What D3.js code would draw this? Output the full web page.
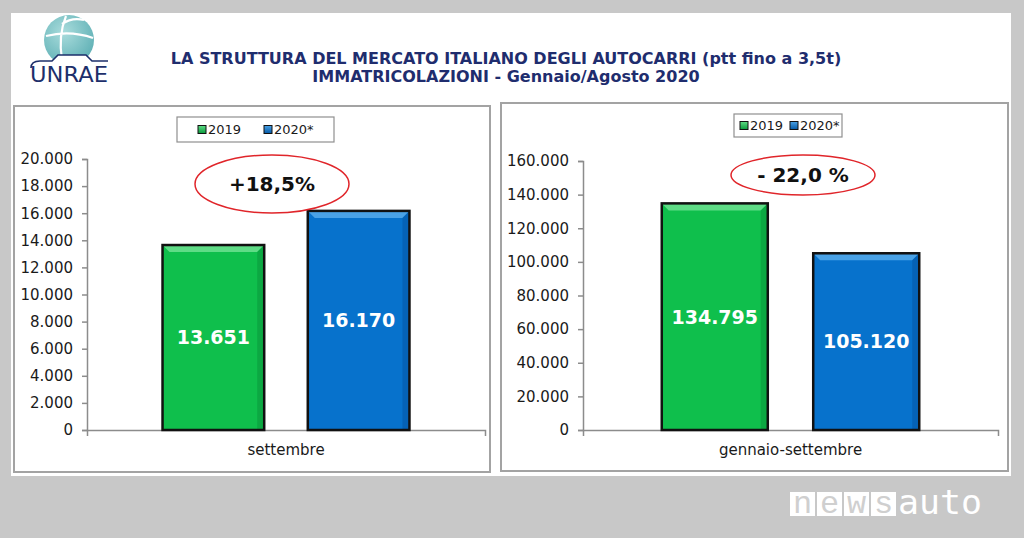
<!DOCTYPE html>
<html>
<head>
<meta charset="utf-8">
<script src="https://cdn.jsdelivr.net/npm/d3@7"></script>
<style>
  body { margin: 0; background: #c8c8c8; }
  svg { display: block; }
  text { font-family: "DejaVu Sans", Verdana, sans-serif; }
</style>
</head>
<body>
<div id="chart"></div>
<script>
// data
var categories = ["settembre", "gennaio-settembre"];
var seriesNames = ["2019", "2020*"];
var values2019 = [13651, 134795];
var values2020 = [16170, 105120];
var yMaxes = [20000, 160000];
var yTicks = [
  [0, 2000, 4000, 6000, 8000, 10000, 12000, 14000, 16000, 18000, 20000],
  [0, 20000, 40000, 60000, 80000, 100000, 120000, 140000, 160000]
];
var changeLabels = ["+18,5%", "- 22,0 %"];
var titleLines = [
  "LA STRUTTURA DEL MERCATO ITALIANO DEGLI AUTOCARRI (ptt fino a 3,5t)",
  "IMMATRICOLAZIONI - Gennaio/Agosto 2020"
];

var svgWidth = 1024;
var svgHeight = 538;

var it = d3.formatLocale({ decimal: ",", thousands: ".", grouping: [3], currency: ["", "€"] });
var fmt = it.format(",d");

var svg = d3.select("#chart")
  .append("svg")
  .attr("width", svgWidth)
  .attr("height", svgHeight);

var colors = { "2019": "#0fbf4c", "2020*": "#0772cc" };
var lightColors = { "2019": "#5fdc86", "2020*": "#4aa2e6" };
var darkColors = { "2019": "#0a9a3c", "2020*": "#0559a6" };

// gradients for legend squares
var defs = svg.append("defs");
seriesNames.forEach(function(s, i) {
  var g = defs.append("linearGradient").attr("id", "lg" + i)
    .attr("x1", 0).attr("y1", 0).attr("x2", 0).attr("y2", 1);
  g.append("stop").attr("offset", "0%").attr("stop-color", lightColors[s]);
  g.append("stop").attr("offset", "100%").attr("stop-color", darkColors[s]);
});
var globe = defs.append("radialGradient").attr("id", "globe")
  .attr("cx", "40%").attr("cy", "35%").attr("r", "70%");
globe.append("stop").attr("offset", "0%").attr("stop-color", "#a9dcdc");
globe.append("stop").attr("offset", "100%").attr("stop-color", "#5fb0b5");

// white panel
svg.append("rect")
  .attr("x", 11).attr("y", 13)
  .attr("width", 1000).attr("height", 463)
  .attr("fill", "#fff");

// logo
var logo = svg.append("g");
logo.append("circle").attr("cx", 69).attr("cy", 40).attr("r", 25).attr("fill", "url(#globe)");
logo.append("path")
  .attr("d", "M46,36 Q70,30 93,38 M66,16 Q58,36 62,60 M62,24 Q72,17 84,20")
  .attr("fill", "none").attr("stroke", "#fff").attr("stroke-width", 2.2);
logo.append("path")
  .attr("d", "M40,66 L40,61 L52,61 L58,55 L86,55 L92,61 L100,61 L100,66 Z")
  .attr("fill", "#fff");
logo.append("path")
  .attr("d", "M31,68 Q31,61 40,61 L52,61 L58,55 L86,55 L92,61 L108,61")
  .attr("fill", "none").attr("stroke", "#1d2f6b").attr("stroke-width", 1.6);
logo.append("text")
  .attr("x", 30).attr("y", 82)
  .attr("textLength", 78)
  .attr("lengthAdjust", "spacingAndGlyphs")
  .style("font-family", "'DejaVu Sans'")
  .style("font-size", "22px")
  .style("font-weight", "normal")
  .attr("fill", "#1d2f6b")
  .text("UNRAE");

// title
svg.selectAll(".title")
  .data(titleLines)
  .enter()
  .append("text")
  .attr("class", "title")
  .attr("x", 506)
  .attr("y", function(d, i) { return 64 + i * 18; })
  .attr("text-anchor", "middle")
  .style("font-size", "16px")
  .style("font-weight", "bold")
  .attr("fill", "#1f2d6e")
  .text(function(d) { return d; });

// layout of the two charts
var panels = [
  { box: [14, 106, 476, 366], x: [87, 485], y: [430, 159], legend: [177, 117, 157, 25],
    ellipse: [272, 184, 77, 29] },
  { box: [501, 103, 507, 368], x: [583, 998], y: [430, 161], legend: [734, 114, 108, 23],
    ellipse: [803, 175, 72, 20] }
];

panels.forEach(function(p, ci) {
  var g = svg.append("g");

  g.append("rect")
    .attr("x", p.box[0]).attr("y", p.box[1])
    .attr("width", p.box[2]).attr("height", p.box[3])
    .attr("fill", "#fff")
    .attr("stroke", "#a3a3a3")
    .attr("stroke-width", 2);

  var x0 = d3.scaleBand()
    .domain([categories[ci]])
    .range(p.x);

  var x1 = d3.scaleBand()
    .domain(seriesNames)
    .range([0, x0.bandwidth()])
    .paddingInner(0.3)
    .paddingOuter(0.52);

  var y = d3.scaleLinear()
    .domain([0, yMaxes[ci]])
    .range(p.y);

  // y axis
  var yAxis = d3.axisLeft(y)
    .tickValues(yTicks[ci])
    .tickFormat(fmt)
    .tickSize(5)
    .tickPadding(9);

  var ya = g.append("g")
    .attr("transform", "translate(" + p.x[0] + ",0)")
    .call(yAxis);
  ya.select(".domain").attr("stroke", "#8c8c8c").attr("stroke-width", 1.5);
  ya.selectAll(".tick line").attr("stroke", "#8c8c8c").attr("stroke-width", 1.5);
  ya.selectAll(".tick text")
    .style("font-family", "'DejaVu Sans'")
    .style("font-size", "15px")
    .attr("fill", "#1a1a1a");

  // x axis
  var xAxis = d3.axisBottom(x0).tickSize(0).tickPadding(14).tickSizeOuter(6);
  var xa = g.append("g")
    .attr("transform", "translate(0," + p.y[0] + ")")
    .call(xAxis);
  xa.select(".domain").attr("stroke", "#8c8c8c").attr("stroke-width", 1.5);
  xa.selectAll(".tick text")
    .style("font-family", "'DejaVu Sans'")
    .style("font-size", "15px")
    .attr("fill", "#1a1a1a");

  var rows = seriesNames.map(function(s, i) {
    return { series: s, value: i === 0 ? values2019[ci] : values2020[ci] };
  });

  // bars with bevel
  var bars = g.selectAll(".bar")
    .data(rows)
    .enter()
    .append("g")
    .attr("class", "bar");

  bars.append("rect")
    .attr("x", function(d) { return x0(categories[ci]) + x1(d.series); })
    .attr("y", function(d) { return y(d.value); })
    .attr("width", x1.bandwidth())
    .attr("height", function(d) { return y(0) - y(d.value); })
    .attr("fill", function(d) { return colors[d.series]; });

  var bev = 7;
  bars.append("path")
    .attr("d", function(d) {
      var l = x0(categories[ci]) + x1(d.series), r = l + x1.bandwidth(), t = y(d.value);
      return "M" + l + "," + t + "L" + r + "," + t + "L" + (r - bev) + "," + (t + bev) +
        "L" + (l + bev) + "," + (t + bev) + "Z";
    })
    .attr("fill", function(d) { return lightColors[d.series]; });

  bars.append("path")
    .attr("d", function(d) {
      var l = x0(categories[ci]) + x1(d.series), r = l + x1.bandwidth(), t = y(d.value), b = y(0);
      return "M" + r + "," + t + "L" + r + "," + b + "L" + (r - bev) + "," + b +
        "L" + (r - bev) + "," + (t + bev) + "Z";
    })
    .attr("fill", function(d) { return darkColors[d.series]; })
    .attr("opacity", 0.6);

  bars.append("rect")
    .attr("x", function(d) { return x0(categories[ci]) + x1(d.series); })
    .attr("y", function(d) { return y(d.value); })
    .attr("width", x1.bandwidth())
    .attr("height", function(d) { return y(0) - y(d.value); })
    .attr("fill", "none")
    .attr("stroke", "#111")
    .attr("stroke-width", 2.5);

  bars.append("text")
    .attr("x", function(d) { return x0(categories[ci]) + x1(d.series) + x1.bandwidth() / 2; })
    .attr("y", function(d) { return (y(d.value) + y(0)) / 2; })
    .attr("dy", "0.36em")
    .attr("text-anchor", "middle")
    .style("font-size", "19px")
    .style("font-weight", "bold")
    .attr("fill", "#fff")
    .text(function(d) { return fmt(d.value); });

  // legend
  var lg = g.append("g");
  lg.append("rect")
    .attr("x", p.legend[0]).attr("y", p.legend[1])
    .attr("width", p.legend[2]).attr("height", p.legend[3])
    .attr("fill", "#fff")
    .attr("stroke", "#8f8f8f")
    .attr("stroke-width", 1.2);

  var itemX = ci === 0 ? [198, 264] : [740, 790];
  var cy = p.legend[1] + p.legend[3] / 2;
  seriesNames.forEach(function(s, i) {
    lg.append("rect")
      .attr("x", itemX[i]).attr("y", cy - 4)
      .attr("width", 8).attr("height", 8)
      .attr("fill", "url(#lg" + i + ")")
      .attr("stroke", "#111")
      .attr("stroke-width", 1);
    lg.append("text")
      .attr("x", itemX[i] + 10).attr("y", cy)
      .attr("dy", "0.36em")
      .style("font-size", "13px")
      .attr("fill", "#1a1a1a")
      .text(s);
  });

  // change ellipse
  g.append("ellipse")
    .attr("cx", p.ellipse[0]).attr("cy", p.ellipse[1])
    .attr("rx", p.ellipse[2]).attr("ry", p.ellipse[3])
    .attr("fill", "none")
    .attr("stroke", "#e0252a")
    .attr("stroke-width", 1.5);

  g.append("text")
    .attr("x", p.ellipse[0]).attr("y", p.ellipse[1])
    .attr("dy", "0.36em")
    .attr("text-anchor", "middle")
    .style("font-size", "20px")
    .style("font-weight", "bold")
    .attr("fill", "#111")
    .text(changeLabels[ci]);
});

// watermark
var wm = svg.append("g");
"news".split("").forEach(function(ch, i) {
  wm.append("rect")
    .attr("x", 790 + i * 27).attr("y", 492)
    .attr("width", 25).attr("height", 24)
    .attr("fill", "#fff");
  wm.append("text")
    .attr("x", 790 + i * 27 + 12.5).attr("y", 513)
    .attr("text-anchor", "middle")
    .style("font-family", "'Liberation Mono', monospace")
    .style("font-size", "32px")
    .attr("fill", "#cfcfcf")
    .text(ch);
});
wm.append("text")
  .attr("x", 898).attr("y", 514)
  .attr("textLength", 84)
  .attr("lengthAdjust", "spacingAndGlyphs")
  .style("font-family", "'DejaVu Sans Mono', monospace")
  .style("font-size", "34px")
  .attr("fill", "#fff")
  .text("auto");
</script>
</body>
</html>
